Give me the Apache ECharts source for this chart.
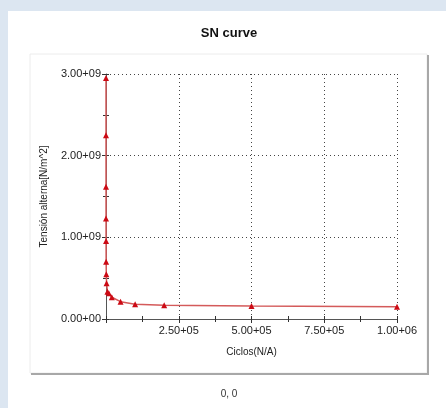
<!DOCTYPE html>
<html>
<head>
<meta charset="utf-8">
<script src="https://cdn.jsdelivr.net/npm/echarts@6/dist/echarts.min.js"></script>
<style>
html,body{margin:0;padding:0;background:#dce6f1;}
#c{width:446px;height:408px;}
</style>
</head>
<body>
<div id="c"></div>
<script>
const cycles = [10, 20, 50, 100, 200, 500, 1000, 2000, 5000, 10000, 20000, 50000, 100000, 200000, 500000, 1000000];
const stress = [2.95e9, 2.25e9, 1.62e9, 1.23e9, 0.955e9, 0.70e9, 0.547e9, 0.437e9, 0.334e9, 0.315e9, 0.266e9, 0.212e9, 0.18e9, 0.168e9, 0.159e9, 0.151e9];
const titleText = 'SN curve';
const xName = 'Ciclos(N/A)';
const yName = 'Tensión alterna[N/m^2]';
const footerText = '0, 0';

function sci(v) {
  if (v === 0) return '0.00+00';
  const e = Math.floor(Math.log10(Math.abs(v)) + 1e-9);
  const m = v / Math.pow(10, e);
  return m.toFixed(2) + '+' + (e < 10 ? '0' + e : '' + e);
}

const chart = echarts.init(document.getElementById('c'));
const font = 'Arial, "Liberation Sans", sans-serif';
const baseAxis = {
  type: 'value',
  axisLine: {show: true, lineStyle: {color: '#555', width: 1}},
  axisTick: {show: true, length: 4, lineStyle: {color: '#333'}},
  minorTick: {show: true, splitNumber: 2, length: 3, lineStyle: {color: '#333'}},
  splitLine: {show: true, lineStyle: {color: '#444', type: [1, 3], width: 1}},
  axisLabel: {color: '#222', fontSize: 11, fontFamily: font, formatter: sci}
};
chart.setOption({
  animation: false,
  graphic: [
    {type: 'rect', shape: {x: 8, y: 11, width: 438, height: 397}, style: {fill: '#fff'}, z: -10},
    {type: 'rect', shape: {x: 30, y: 54, width: 397, height: 319}, style: {fill: '#fff', stroke: '#ececec', lineWidth: 1}, z: -9},
    {type: 'polyline', shape: {points: [[428, 55], [428, 374], [31, 374]]}, style: {stroke: '#a8a8a8', lineWidth: 2, fill: null}, z: -8},
    {type: 'text', x: 229, y: 33, style: {text: titleText, font: 'bold 13px ' + font, fill: '#111', align: 'center', verticalAlign: 'middle'}},
    {type: 'text', x: 229, y: 394, style: {text: footerText, font: '10px ' + font, fill: '#333', align: 'center', verticalAlign: 'middle'}}
  ],
  grid: {left: 106, top: 74, width: 291, height: 245},
  xAxis: [
    Object.assign({}, baseAxis, {
      min: 0, max: 1000000, interval: 250000,
      name: xName, nameLocation: 'middle', nameGap: 28,
      nameTextStyle: {color: '#222', fontSize: 10, fontFamily: font},
      axisLabel: Object.assign({}, baseAxis.axisLabel, {margin: 6,
        formatter: v => v === 0 ? '' : sci(v)})
    }),
    Object.assign({}, baseAxis, {
      min: 0, max: 1000000, interval: 250000, position: 'bottom',
      axisLine: {show: false}, axisLabel: {show: false}, splitLine: {show: false},
      axisTick: {show: true, inside: true, length: 3, lineStyle: {color: '#333'}},
      minorTick: {show: true, splitNumber: 2, length: 3, lineStyle: {color: '#333'}}
    })
  ],
  yAxis: [
    Object.assign({}, baseAxis, {
      min: 0, max: 3e9, interval: 1e9,
      name: yName, nameLocation: 'middle', nameGap: 57, nameRotate: 90,
      nameTextStyle: {color: '#222', fontSize: 10, fontFamily: font},
      axisLabel: Object.assign({}, baseAxis.axisLabel, {margin: 5})
    }),
    Object.assign({}, baseAxis, {
      min: 0, max: 3e9, interval: 1e9, position: 'left',
      axisLine: {show: false}, axisLabel: {show: false}, splitLine: {show: false},
      axisTick: {show: true, inside: true, length: 3, lineStyle: {color: '#333'}},
      minorTick: {show: true, splitNumber: 2, length: 3, lineStyle: {color: '#333'}}
    })
  ],
  series: [{
    type: 'line',
    data: cycles.map((c, i) => [c, stress[i]]),
    symbol: 'triangle', symbolSize: 6,
    itemStyle: {color: '#cc0a14'},
    lineStyle: {color: '#d45a5a', width: 1.5},
    clip: false
  }]
});
</script>
</body>
</html>
